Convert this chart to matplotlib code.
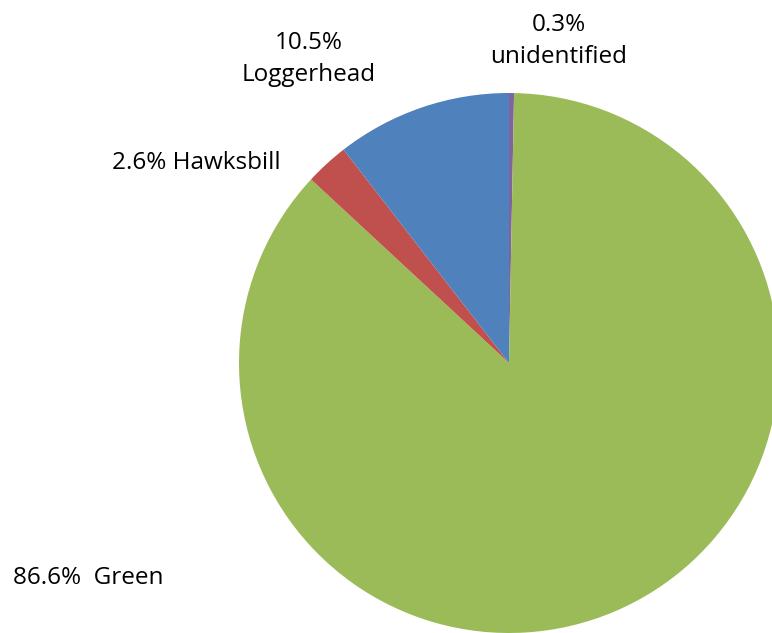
import matplotlib
matplotlib.use("Agg")
import matplotlib.pyplot as plt

categories = ["unidentified", "Green", "Hawksbill", "Loggerhead"]
values = [0.3, 86.6, 2.6, 10.5]
colors = ["#8064A2", "#9BBB59", "#C0504D", "#4F81BD"]
label_texts = ["0.3%\nunidentified", "86.6%  Green", "2.6% Hawksbill", "10.5%\nLoggerhead"]

W, H = 772, 633
fig = plt.figure(figsize=(W / 100, H / 100), dpi=100)
fig.patch.set_facecolor("white")

cx, cy, r = 509, 363, 270
ax = fig.add_axes([(cx - r) / W, (H - cy - r) / H, 2 * r / W, 2 * r / H])
wedges, _ = ax.pie(values, colors=colors, startangle=90, counterclock=False,
                   radius=1.0, wedgeprops=dict(linewidth=0))
for w in wedges:
    w.set_clip_on(False)
ax.set_xlim(-1, 1)
ax.set_ylim(-1, 1)
ax.set_aspect("equal")
ax.axis("off")

font = dict(family=["Open Sans", "DejaVu Sans"], fontsize=17.5, color="black")
# label positions in pixels (x center, y center)
positions = [(559, 41, "center"), (88, 578, "center"), (196, 163, "center"), (309, 59, "center")]
for txt, (px, py, ha) in zip(label_texts, positions):
    fig.text(px / W, 1 - py / H, txt, ha=ha, va="center", linespacing=1.45, **font)

fig.savefig("out.png", dpi=100, facecolor="white")
